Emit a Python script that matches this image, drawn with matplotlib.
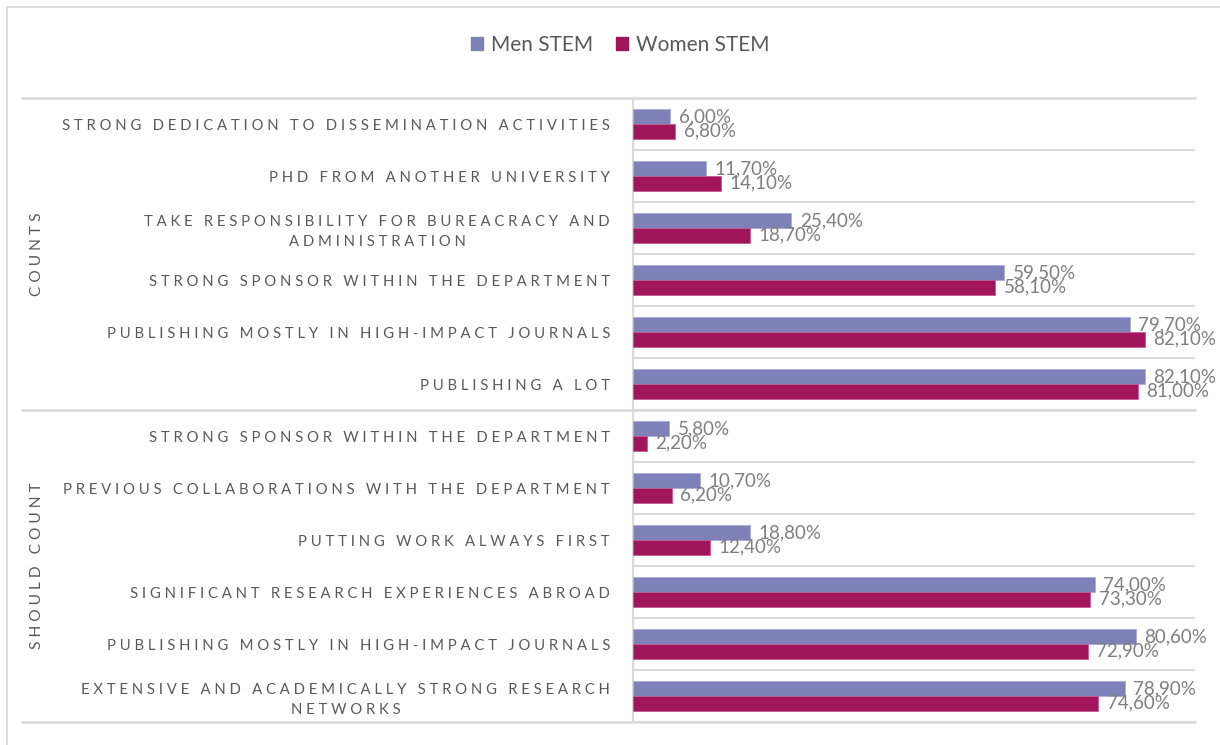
import matplotlib
matplotlib.use('Agg')
import matplotlib.pyplot as plt
from matplotlib.patches import Patch
from matplotlib.lines import Line2D
from matplotlib.transforms import blended_transform_factory
import numpy as np

# ---------------- data ----------------
groups = ['COUNTS', 'SHOULD COUNT']
group_sizes = [6, 6]
categories = [
    'STRONG DEDICATION TO DISSEMINATION ACTIVITIES',
    'PHD FROM ANOTHER UNIVERSITY',
    'TAKE RESPONSIBILITY FOR BUREACRACY AND\nADMINISTRATION',
    'STRONG SPONSOR WITHIN THE DEPARTMENT',
    'PUBLISHING MOSTLY IN HIGH-IMPACT JOURNALS',
    'PUBLISHING A LOT',
    'STRONG SPONSOR WITHIN THE DEPARTMENT',
    'PREVIOUS COLLABORATIONS WITH THE DEPARTMENT',
    'PUTTING WORK ALWAYS FIRST',
    'SIGNIFICANT RESEARCH EXPERIENCES ABROAD',
    'PUBLISHING MOSTLY IN HIGH-IMPACT JOURNALS',
    'EXTENSIVE AND ACADEMICALLY STRONG RESEARCH\nNETWORKS',
]
series_names = ['Men STEM', 'Women STEM']
men = [6.0, 11.7, 25.4, 59.5, 79.7, 82.1, 5.8, 10.7, 18.8, 74.0, 80.6, 78.9]
women = [6.8, 14.1, 18.7, 58.1, 82.1, 81.0, 2.2, 6.2, 12.4, 73.3, 72.9, 74.6]

# ---------------- style ----------------
MEN_C = '#7E80B8'
WOMEN_C = '#A0155C'
GRID_C = '#D9D9D9'
TXT_C = '#595959'
LBL_C = '#7F7F7F'
FONT = ['Lato', 'DejaVu Sans']
plt.rcParams['font.family'] = FONT

GAP = '\u2009\u2009'


def spaced(s):
    lines = []
    for line in s.split('\n'):
        words = [GAP.join(list(w)) for w in line.split(' ')]
        lines.append((GAP + ' ' + GAP).join(words))
    return '\n'.join(lines)


def fmt(v):
    return f'{v:.2f}%'.replace('.', ',')


W, H = 1220, 745
fig = plt.figure(figsize=(W / 100, H / 100), dpi=100)
ax_left, ax_right, ax_top, ax_bottom = 633, 1195, 98, 722
ax = fig.add_axes([ax_left / W, 1 - ax_bottom / H,
                   (ax_right - ax_left) / W, (ax_bottom - ax_top) / H])

n = len(categories)
y = np.arange(n)
h = 0.28
ax.barh(y - h / 2, men, height=h, color=MEN_C, edgecolor='#A9ABD6', linewidth=0.6, label=series_names[0], zorder=3)
ax.barh(y + h / 2, women, height=h, color=WOMEN_C, edgecolor='#C45A8E', linewidth=0.6, label=series_names[1], zorder=3)

for yi, v in zip(y, men):
    ax.annotate(fmt(v), (v, yi - h / 2), xytext=(6, 0), textcoords='offset points',
                va='center', ha='left', fontsize=13.5, color=LBL_C)
for yi, v in zip(y, women):
    ax.annotate(fmt(v), (v, yi + h / 2), xytext=(6, 0), textcoords='offset points',
                va='center', ha='left', fontsize=13.5, color=LBL_C)

ax.set_xlim(0, 90.1)
ax.set_ylim(n - 0.5, -0.5)
ax.set_xticks([])
ax.set_yticks(y)
ax.set_yticklabels([spaced(c) for c in categories], fontsize=10.7, color=TXT_C,
                   multialignment='center', linespacing=1.5)
ax.tick_params(axis='y', length=0, pad=16.5)

for s in ['top', 'right', 'bottom']:
    ax.spines[s].set_visible(False)
ax.spines['left'].set_color(GRID_C)
ax.spines['left'].set_linewidth(1.5)

# category gridlines
for b in np.arange(-0.5, n, 1.0):
    ax.axhline(b, color=GRID_C, lw=1.5, zorder=1)

# group separators extending into label area
tr = blended_transform_factory(fig.transFigure, ax.transData)
bounds = np.concatenate([[-0.5], np.cumsum(group_sizes) - 0.5])
for b in bounds:
    fig.add_artist(Line2D([22 / W, ax_right / W], [b, b], transform=tr,
                          color=GRID_C, lw=1.8))

# group labels
start = 0
for g, sz in zip(groups, group_sizes):
    mid = start + (sz - 1) / 2
    fig.text(37 / W, mid, spaced(g), transform=tr, rotation=90, ha='center', va='center',
             fontsize=11.2, color=TXT_C)
    start += sz

# figure border
fig.add_artist(Line2D([7 / W, 1], [1 - 7 / H, 1 - 7 / H], transform=fig.transFigure, color=GRID_C, lw=1.2))
fig.add_artist(Line2D([7 / W, 7 / W], [0, 1 - 7 / H], transform=fig.transFigure, color=GRID_C, lw=1.2))

# legend
handles = [Patch(color=MEN_C, label=series_names[0]), Patch(color=WOMEN_C, label=series_names[1])]
fig.legend(handles=handles, loc='center', bbox_to_anchor=(620 / W, 1 - 45 / H), ncol=2,
           frameon=False, fontsize=15, handlelength=0.6, handleheight=0.6,
           handletextpad=0.35, columnspacing=1.1, labelcolor=TXT_C)

fig.savefig('out.png', dpi=100, facecolor='white')
